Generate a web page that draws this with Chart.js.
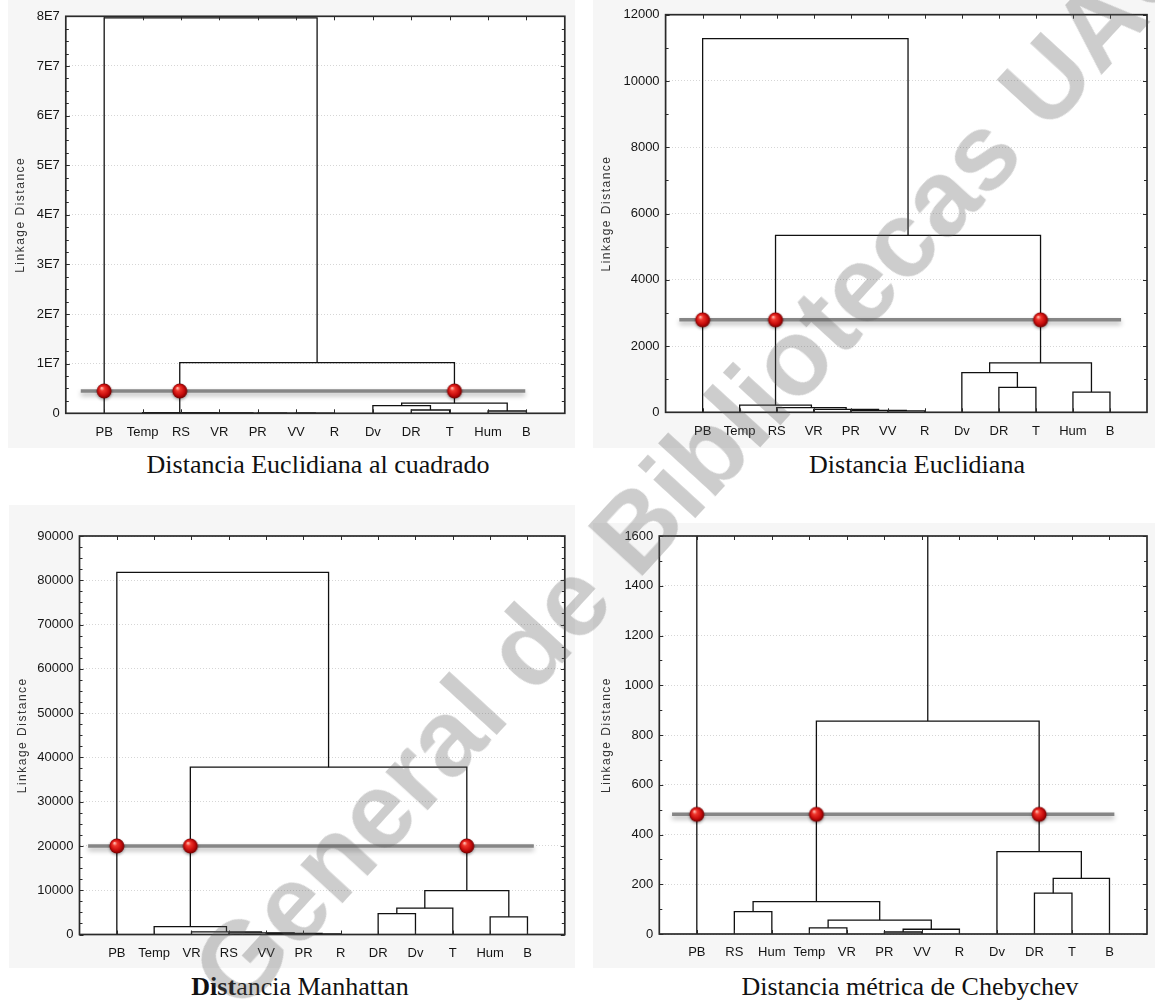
<!DOCTYPE html>
<html>
<head>
<meta charset="utf-8">
<script src="https://cdn.jsdelivr.net/npm/chart.js@4.4.1/dist/chart.umd.min.js"></script>
<style>
  body { margin: 0; width: 1155px; height: 1002px; position: relative; overflow: hidden; background: #fff; }
  .panel { position: absolute; background: #f6f6f6; }
  canvas { position: absolute; }
  .caption { position: absolute; width: 600px; text-align: center; font: 26px "Liberation Serif", "Times New Roman", serif; line-height: 30px; color: #111; }
  .watermark { position: absolute; left: -140px; top: 1321px; white-space: nowrap; transform-origin: 0 50%;
               transform: rotate(-47.5deg); font: bold 108px "Liberation Sans", Arial, sans-serif; line-height: 108px;
               color: rgba(90, 90, 90, 0.3); pointer-events: none; z-index: 10; }
</style>
</head>
<body>
<div class="panel" style="left:8px;top:0;width:567px;height:448px"></div>
<div class="panel" style="left:593px;top:0;width:562px;height:448px"></div>
<div class="panel" style="left:9px;top:505px;width:566px;height:463px"></div>
<div class="panel" style="left:593px;top:523px;width:562px;height:445px"></div>

<canvas id="sqEuclid" width="580" height="450" style="left:0;top:0"></canvas>
<canvas id="euclid" width="575" height="450" style="left:580px;top:0"></canvas>
<canvas id="manhattan" width="580" height="490" style="left:0;top:480px"></canvas>
<canvas id="chebychev" width="575" height="490" style="left:580px;top:480px"></canvas>

<div class="caption" style="left:18px;top:450px">Distancia Euclidiana al cuadrado</div>
<div class="caption" style="left:617px;top:450px">Distancia Euclidiana</div>
<div class="caption" style="left:0px;top:972px"><b>Dist</b>ancia Manhattan</div>
<div class="caption" style="left:610px;top:972px">Distancia métrica de Chebychev</div>

<div class="watermark">Dirección General de Bibliotecas UAQ</div>

<script>
// merge rows: [left, right, linkage distance]; a number points at an earlier row

// squared Euclidean distance
const sqEuclidLabels = ["PB", "Temp", "RS", "VR", "PR", "VV", "R", "Dv", "DR", "T", "Hum", "B"];
const sqEuclidMerges = [
  ["VV", "R", 2.0e4],
  ["PR", 0, 3.0e4],
  ["VR", 1, 5.0e4],
  ["RS", 2, 8.0e4],
  ["Temp", 3, 1.2e5],
  ["DR", "T", 6.6e5],
  ["Hum", "B", 4.6e5],
  ["Dv", 5, 1.55e6],
  [7, 6, 2.05e6],
  [4, 8, 1.02e7],
  ["PB", 9, 7.97e7]
];
const sqEuclidCut = 4.5e6;
const sqEuclidCutSpan = [0.39, 11.97];
const sqEuclidTicks = ["0", "1E7", "2E7", "3E7", "4E7", "5E7", "6E7", "7E7", "8E7"];

// Euclidean distance
const euclidLabels = ["PB", "Temp", "RS", "VR", "PR", "VV", "R", "Dv", "DR", "T", "Hum", "B"];
const euclidMerges = [
  ["VV", "R", 40],
  ["PR", 0, 60],
  ["VR", 1, 90],
  ["RS", 2, 140],
  ["Temp", 3, 215],
  ["DR", "T", 750],
  ["Hum", "B", 610],
  ["Dv", 5, 1200],
  [7, 6, 1490],
  [4, 8, 5340],
  ["PB", 9, 11280]
];
const euclidCut = 2790;
const euclidCutSpan = [0.37, 12.3];
const euclidTicks = ["0", "2000", "4000", "6000", "8000", "10000", "12000"];

// Manhattan distance
const manhattanLabels = ["PB", "Temp", "VR", "RS", "VV", "PR", "R", "DR", "Dv", "T", "Hum", "B"];
const manhattanMerges = [
  ["PR", "R", 150],
  ["VV", 0, 230],
  ["RS", 1, 385],
  ["VR", 2, 610],
  ["Temp", 3, 1800],
  ["DR", "Dv", 4700],
  ["Hum", "B", 4000],
  [5, "T", 5950],
  [7, 6, 9900],
  [4, 8, 37800],
  ["PB", 9, 81800]
];
const manhattanCut = 20000;
const manhattanCutSpan = [0.23, 12.17];
const manhattanTicks = ["0", "10000", "20000", "30000", "40000", "50000", "60000", "70000", "80000", "90000"];

// Chebychev distance
const chebychevLabels = ["PB", "RS", "Hum", "Temp", "VR", "PR", "VV", "R", "Dv", "DR", "T", "B"];
const chebychevMerges = [
  ["RS", "Hum", 90],
  ["Temp", "VR", 25],
  ["PR", "VV", 8],
  [2, "R", 19],
  [1, 3, 56],
  [0, 4, 130],
  ["DR", "T", 164],
  [6, "B", 224],
  ["Dv", 7, 331],
  [5, 8, 856],
  ["PB", 9, 1750]
];
const chebychevCut = 481;
const chebychevCutSpan = [0.34, 12.13];
const chebychevTicks = ["0", "200", "400", "600", "800", "1000", "1200", "1400", "1600"];

Chart.defaults.font.family = '"Liberation Sans", Arial, sans-serif';
Chart.defaults.color = "#151515";

// red marker drawn once and reused as point style
function makeBall() {
  const c = document.createElement("canvas");
  c.width = 22; c.height = 22;
  const g = c.getContext("2d");
  g.shadowColor = "rgba(0,0,0,0.35)";
  g.shadowBlur = 3;
  g.shadowOffsetY = 1.5;
  const grad = g.createRadialGradient(8.5, 8, 0.5, 11, 11, 7.6);
  grad.addColorStop(0, "#ffb4a8");
  grad.addColorStop(0.25, "#f0362c");
  grad.addColorStop(0.7, "#c40a0a");
  grad.addColorStop(1, "#6e0000");
  g.fillStyle = grad;
  g.beginPath();
  g.arc(11, 11, 7.5, 0, Math.PI * 2);
  g.fill();
  return c;
}
const ball = makeBall();

// places each merge halfway between its two children
function buildTree(labels, merges) {
  const pos = {};
  labels.forEach((l, i) => pos[l] = i + 1);
  const nodes = [];
  const ref = k => typeof k === "number" ? nodes[k] : { x: pos[k], h: 0 };
  merges.forEach(([a, b, h]) => {
    const A = ref(a), B = ref(b);
    nodes.push({ x: (A.x + B.x) / 2, h: h, a: A, b: B });
  });
  return nodes;
}

const framePlugin = {
  id: "frame",
  beforeDraw(chart) {
    const { ctx, chartArea: a } = chart;
    ctx.save();
    ctx.fillStyle = "#fff";
    ctx.fillRect(a.left, a.top, a.right - a.left, a.bottom - a.top);
    ctx.restore();
  },
  afterDraw(chart, args, opts) {
    const { ctx, chartArea: a, scales: { x, y } } = chart;
    ctx.save();
    ctx.strokeStyle = "#2a2a2a";
    ctx.lineWidth = 1;
    ctx.beginPath();
    x.ticks.forEach(t => {
      const px = Math.round(x.getPixelForValue(t.value)) + 0.5;
      ctx.moveTo(px, a.bottom); ctx.lineTo(px, a.bottom - 4);
      ctx.moveTo(px, a.top); ctx.lineTo(px, a.top + 4);
    });
    const n = Math.round(y.max / opts.step) * opts.minor;
    for (let i = 0; i <= n; i++) {
      const py = Math.round(y.getPixelForValue(i * opts.step / opts.minor)) + 0.5;
      const len = i % opts.minor === 0 ? 4 : 3;
      ctx.moveTo(a.left, py); ctx.lineTo(a.left + len, py);
      ctx.moveTo(a.right, py); ctx.lineTo(a.right - len, py);
    }
    ctx.stroke();
    ctx.lineWidth = 1.7;
    ctx.strokeRect(a.left, a.top, a.right - a.left, a.bottom - a.top);

    // axis title, spaced out the way the source program prints it
    ctx.font = '12px "Liberation Sans", Arial, sans-serif';
    ctx.letterSpacing = "1.5px";
    ctx.fillStyle = "#333";
    ctx.textAlign = "center";
    ctx.textBaseline = "middle";
    ctx.translate(opts.titleX, (a.top + a.bottom) / 2);
    ctx.rotate(-Math.PI / 2);
    ctx.fillText(opts.title, 0, 0);
    ctx.restore();
  }
};

const shadowPlugin = {
  id: "cutShadow",
  beforeDatasetDraw(chart, args) {
    if (!chart.data.datasets[args.index].shadow) return;
    const ctx = chart.ctx;
    ctx.save();
    ctx.shadowColor = "rgba(0,0,0,0.3)";
    ctx.shadowBlur = 5;
    ctx.shadowOffsetY = 3;
  },
  afterDatasetDraw(chart, args) {
    if (chart.data.datasets[args.index].shadow) chart.ctx.restore();
  }
};

function drawDendrogram(id, cfg) {
  const nodes = buildTree(cfg.labels, cfg.merges);
  const datasets = [];

  // cut markers where a branch crosses the cut level
  const balls = [];
  nodes.forEach(nd => {
    [nd.a, nd.b].forEach(ch => {
      if (ch.h < cfg.cut && nd.h > cfg.cut) balls.push({ x: ch.x, y: cfg.cut });
    });
  });
  datasets.push({
    data: balls, showLine: false, pointStyle: ball, pointRadius: 7, order: 0
  });
  datasets.push({
    data: [{ x: cfg.cutSpan[0], y: cfg.cut }, { x: cfg.cutSpan[1], y: cfg.cut }],
    showLine: true, borderColor: "#868686", borderWidth: 3.5, pointRadius: 0,
    shadow: true, order: 1
  });
  nodes.forEach(nd => {
    datasets.push({
      data: [
        { x: nd.a.x, y: nd.a.h }, { x: nd.a.x, y: nd.h },
        { x: nd.b.x, y: nd.h }, { x: nd.b.x, y: nd.b.h }
      ],
      showLine: true, borderColor: "#111", borderWidth: 1.3, pointRadius: 0,
      tension: 0, order: 2
    });
  });

  const L = cfg.layout;
  new Chart(document.getElementById(id), {
    type: "scatter",
    data: { datasets },
    plugins: [framePlugin, shadowPlugin],
    options: {
      responsive: false,
      animation: false,
      devicePixelRatio: 1,
      layout: { padding: { left: 0, top: L.top, right: L.right, bottom: 0 } },
      plugins: {
        legend: { display: false },
        tooltip: { enabled: false },
        frame: { title: "Linkage Distance", titleX: L.titleX, step: cfg.step, minor: cfg.minor }
      },
      scales: {
        x: {
          type: "linear", min: 0, max: 13,
          afterBuildTicks: s => { s.ticks = cfg.labels.map((_, i) => ({ value: i + 1 })); },
          afterFit: s => { s.height = L.xHeight; },
          ticks: {
            autoSkip: false, maxRotation: 0, padding: 3,
            font: { size: 13 },
            callback: (v, i) => cfg.labels[i]
          },
          grid: { display: false },
          border: { display: false }
        },
        y: {
          type: "linear", min: 0, max: cfg.max,
          afterFit: s => { s.width = L.yWidth; },
          ticks: {
            stepSize: cfg.step, padding: 6,
            font: { size: 13 },
            callback: (v, i) => cfg.ticks[i]
          },
          grid: { color: "#d6d6d6", lineWidth: 1, drawTicks: false },
          border: { display: false, dash: [1, 2] }
        }
      }
    }
  });
}

drawDendrogram("sqEuclid", {
  labels: sqEuclidLabels, merges: sqEuclidMerges, cut: sqEuclidCut, cutSpan: sqEuclidCutSpan,
  ticks: sqEuclidTicks, max: 8e7, step: 1e7, minor: 4,
  layout: { top: 16.3, right: 15.2, yWidth: 65.8, xHeight: 36.7, titleX: 21 }
});
drawDendrogram("euclid", {
  labels: euclidLabels, merges: euclidMerges, cut: euclidCut, cutSpan: euclidCutSpan,
  ticks: euclidTicks, max: 12000, step: 2000, minor: 2,
  layout: { top: 14.7, right: 4, yWidth: 85.6, xHeight: 37.7, titleX: 26.4 }
});
drawDendrogram("manhattan", {
  labels: manhattanLabels, merges: manhattanMerges, cut: manhattanCut, cutSpan: manhattanCutSpan,
  ticks: manhattanTicks, max: 90000, step: 10000, minor: 4,
  layout: { top: 56, right: 15.2, yWidth: 79.5, xHeight: 35.5, titleX: 22.2 }
});
drawDendrogram("chebychev", {
  labels: chebychevLabels, merges: chebychevMerges, cut: chebychevCut, cutSpan: chebychevCutSpan,
  ticks: chebychevTicks, max: 1600, step: 200, minor: 2,
  layout: { top: 56, right: 4, yWidth: 79.3, xHeight: 36, titleX: 26.4 }
});
</script>
</body>
</html>
